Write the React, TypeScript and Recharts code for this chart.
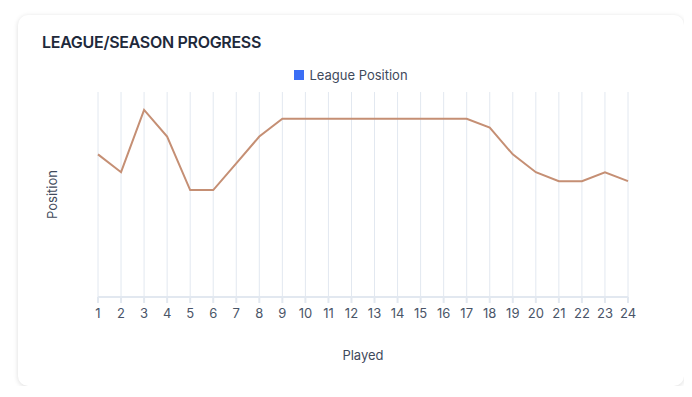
import {
  CartesianGrid,
  Legend,
  Line,
  LineChart,
  XAxis,
  YAxis,
} from "recharts";

const played = ["1", "2", "3", "4", "5", "6", "7", "8", "9", "10", "11", "12", "13", "14", "15", "16", "17", "18", "19", "20", "21", "22", "23", "24"];
const positions = [8, 10, 3, 6, 12, 12, 9, 6, 4, 4, 4, 4, 4, 4, 4, 4, 4, 5, 8, 10, 11, 11, 10, 11];
const positionRange = [1, 24];

const data = played.map((p, i) => ({ played: p, position: positions[i] }));

const font = "Inter, 'Noto Sans', sans-serif";

function LegendContent() {
  return (
    <div style={{ height: 27, display: "flex", justifyContent: "center", alignItems: "flex-start" }}>
      <div style={{ display: "flex", alignItems: "center", height: 20, fontSize: 13, color: "#3f4a5c" }}>
        <span style={{ width: 10, height: 10, background: "#3b6ef5", display: "inline-block", marginRight: 5 }} />
        League Position
      </div>
    </div>
  );
}

export default function App() {
  return (
    <div
      style={{
        position: "relative",
        margin: "7px 0 0 10px",
        width: 666,
        height: 371,
        background: "#fff",
        borderRadius: 10,
        boxShadow: "0 1px 5px rgba(0,0,0,0.14)",
        fontFamily: font,
      }}
    >
      <div
        style={{
          position: "absolute",
          left: 24,
          top: 17,
          fontSize: 16,
          fontWeight: 600,
          color: "#1e293b",
          letterSpacing: -0.3,
        }}
      >
        LEAGUE/SEASON PROGRESS
      </div>
      <div style={{ position: "absolute", left: 0, top: 0 }}>
        <LineChart
          width={666}
          height={371}
          data={data}
          margin={{ top: 50, right: 56, bottom: 24, left: 20 }}
        >
          <CartesianGrid horizontal={false} stroke="#e2e8f0" />
          <Legend verticalAlign="top" content={<LegendContent />} wrapperStyle={{ left: 0, width: 666 }} />
          <XAxis
            dataKey="played"
            height={65}
            interval={0}
            stroke="#e2e8f0"
            strokeWidth={2}
            tickMargin={6}
            tick={{ fontSize: 13, fill: "#4a5568", fontFamily: font }}
            label={{ value: "Played", position: "insideBottom", offset: 2, fontSize: 13, fill: "#3f4a5c", fontFamily: font }}
          />
          <YAxis
            type="number"
            domain={positionRange}
            reversed
            width={60}
            tick={false}
            axisLine={false}
            tickLine={false}
            label={{
              value: "Position",
              angle: -90,
              position: "insideLeft",
              offset: 14,
              style: { textAnchor: "middle", fontSize: 13, fill: "#3f4a5c", fontFamily: font },
            }}
          />
          <Line
            type="linear"
            dataKey="position"
            stroke="#c58f74"
            strokeWidth={2}
            dot={false}
            activeDot={false}
            isAnimationActive={false}
          />
        </LineChart>
      </div>
    </div>
  );
}
